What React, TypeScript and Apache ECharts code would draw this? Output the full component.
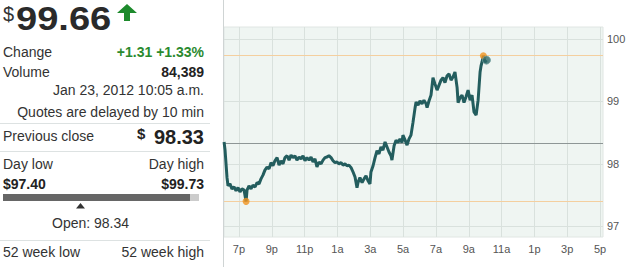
import React, { useEffect, useRef } from "react";
import * as echarts from "echarts";

// Hours since 6:00 p.m. (Jan 22, 2012) and futures price
const hours = [
  0.09, 0.15, 0.18, 0.27, 0.33, 0.45, 0.57, 0.7, 0.82, 0.94, 1.06, 1.18, 1.31, 1.43, 1.49, 1.61, 1.73, 1.85, 1.98, 2.1,
  2.22, 2.34, 2.46, 2.58, 2.71, 2.83, 2.95, 3.07, 3.19, 3.32, 3.44, 3.56, 3.68, 3.8, 3.93, 4.05, 4.17, 4.29, 4.41, 4.53,
  4.66, 4.78, 4.9, 5.02, 5.14, 5.27, 5.39, 5.51, 5.63, 5.75, 5.88, 6.0, 6.12, 6.24, 6.36, 6.48, 6.61, 6.73, 6.85, 6.97,
  7.09, 7.22, 7.34, 7.46, 7.58, 7.7, 7.83, 7.95, 8.07, 8.19, 8.25, 8.37, 8.5, 8.62, 8.74, 8.86, 8.98, 9.04, 9.17, 9.29,
  9.41, 9.53, 9.65, 9.77, 9.9, 10.02, 10.14, 10.26, 10.32, 10.45, 10.57, 10.69, 10.81, 10.93, 10.99, 11.12, 11.24, 11.36,
  11.48, 11.6, 11.73, 11.79, 11.91, 12.03, 12.15, 12.27, 12.4, 12.46, 12.58, 12.7, 12.82, 12.94, 13.07, 13.19, 13.31,
  13.43, 13.55, 13.68, 13.8, 13.92, 14.04, 14.16, 14.29, 14.35, 14.47, 14.59, 14.71, 14.83, 14.96, 15.08, 15.2, 15.32,
  15.45, 15.57, 15.69, 15.75, 15.81, 15.89, 15.99, 16.08,
];
const prices = [
  98.35, 98.22, 98.11, 97.78, 97.65, 97.68, 97.6, 97.63, 97.57, 97.62, 97.55, 97.6, 97.58, 97.4, 97.58, 97.65, 97.6, 97.66,
  97.63, 97.7, 97.68, 97.76, 97.82, 97.9, 97.95, 97.92, 98.02, 97.97, 98.05, 98.1, 97.98, 98.05, 98.0, 98.1, 98.13, 98.06,
  98.14, 98.1, 98.13, 98.06, 98.11, 98.08, 98.13, 98.05, 98.1, 98.06, 98.11, 98.03, 98.08, 97.95, 98.03, 98.0, 98.06,
  98.1, 98.11, 98.13, 98.1, 98.05, 98.02, 98.03, 98.0, 98.02, 97.98, 98.0, 97.97, 97.98, 97.94, 97.87, 97.79, 97.62,
  97.7, 97.78, 97.7, 97.76, 97.81, 97.73, 97.68, 97.87, 97.97, 98.1, 98.21, 98.16, 98.27, 98.22, 98.35, 98.27, 98.19,
  98.13, 98.06, 98.29, 98.38, 98.34, 98.4, 98.34, 98.46, 98.38, 98.3, 98.4, 98.46, 98.66, 98.9, 98.99, 98.94, 99.01,
  98.96, 99.02, 98.96, 98.9, 99.01, 99.1, 99.38, 99.28, 99.18, 99.26, 99.34, 99.38, 99.3, 99.41, 99.44, 99.34, 99.39,
  99.47, 99.22, 98.98, 99.06, 99.1, 98.98, 99.07, 99.18, 99.02, 99.1, 98.83, 98.78, 99.02, 99.47, 99.57, 99.63, 99.73,
  99.63, 99.66,
];

const tickHours = [1, 3, 5, 7, 9, 11, 13, 15, 17, 19, 21, 23];
const tickLabels = ["7p", "9p", "11p", "1a", "3a", "5a", "7a", "9a", "11a", "1p", "3p", "5p"];
const priceTicks = [97, 98, 99, 100];

const lastPrice = "99.66";
const changeText = "+1.31 +1.33%";
const volumeText = "84,389";
const dateText = "Jan 23, 2012 10:05 a.m.";
const delayText = "Quotes are delayed by 10 min";
const previousClose = 98.33;
const dayLow = 97.4;
const dayHigh = 99.73;
const openPrice = 98.34;

const FONT = '"Liberation Sans", Arial, sans-serif';

function txt(x: number, y: number, text: string, size: number, opts: any = {}) {
  const align = opts.align || "left";
  return {
    type: "text",
    x,
    y,
    scaleX: opts.scaleX || 1,
    silent: true,
    style: {
      text,
      fill: opts.fill || "#333",
      font: `${opts.bold ? "bold " : ""}${size}px ${FONT}`,
      align,
      textAlign: align,
      verticalAlign: "middle",
      textVerticalAlign: "middle",
    },
  };
}

export default function App() {
  const ref = useRef<HTMLDivElement>(null);
  useEffect(() => {
    if (!ref.current) return;
    const chart = echarts.init(ref.current, undefined, { renderer: "svg" });
    const lineData = hours.map((h, i) => [h, prices[i]]);
    const lowIdx = prices.indexOf(Math.min(...prices));
    const highIdx = prices.indexOf(Math.max(...prices));
    const lastIdx = prices.length - 1;
    const divider = (y: number) => ({
      type: "line",
      silent: true,
      shape: { x1: 0, y1: y, x2: 210, y2: y },
      style: { stroke: "#dde2e2", lineWidth: 1 },
    });

    chart.setOption({
      animation: false,
      textStyle: { fontFamily: FONT },
      grid: {
        left: 224,
        right: 30,
        top: 27,
        bottom: 30,
        show: true,
        backgroundColor: "#eff5f2",
        borderColor: "#e0e6e3",
        borderWidth: 1,
      },
      xAxis: {
        type: "value",
        min: 0.086,
        max: 23.18,
        axisLine: { show: false },
        axisTick: { show: false, customValues: tickHours },
        axisLabel: {
          customValues: tickHours,
          color: "#555",
          fontSize: 11,
          margin: 6,
          formatter: (v: number) => {
            const i = tickHours.indexOf(Math.round(v));
            return i >= 0 ? tickLabels[i] : "";
          },
        },
        splitLine: { show: true, lineStyle: { color: "#d9e1dd", width: 1 } },
      },
      yAxis: {
        type: "value",
        position: "right",
        min: 96.83,
        max: 100.19,
        axisLine: { show: false },
        axisTick: { show: false, customValues: priceTicks },
        axisLabel: {
          customValues: priceTicks,
          color: "#555",
          fontSize: 11,
          margin: 4,
          formatter: (v: number) => String(Math.round(v)),
        },
        splitLine: { show: true, lineStyle: { color: "#d9e1dd", width: 1 } },
      },
      series: [
        {
          type: "line",
          data: lineData,
          showSymbol: false,
          z: 3,
          lineStyle: { color: "#235d5e", width: 3 },
          markLine: {
            silent: true,
            symbol: "none",
            label: { show: false },
            z: 2,
            data: [
              { yAxis: dayHigh, lineStyle: { color: "#f4cf9f", width: 1, type: "solid" } },
              { yAxis: dayLow, lineStyle: { color: "#f4cf9f", width: 1, type: "solid" } },
              { yAxis: previousClose, lineStyle: { color: "#8e9696", width: 1, type: "solid" } },
            ],
          },
        },
        {
          type: "scatter",
          z: 4,
          symbolSize: 7,
          itemStyle: { color: "#f0931f" },
          data: [lineData[lowIdx], lineData[highIdx]],
        },
        {
          type: "scatter",
          z: 5,
          symbolSize: 8,
          itemStyle: { color: "#2d6a6a", borderColor: "#6f9c9c", borderWidth: 1 },
          data: [lineData[lastIdx]],
        },
      ],
      graphic: [
        {
          type: "line",
          silent: true,
          shape: { x1: 223.5, y1: 0, x2: 223.5, y2: 267 },
          style: { stroke: "#cfd4d4", lineWidth: 1 },
        },
        txt(3, 14, "$", 20, { fill: "#333" }),
        txt(16, 18, lastPrice, 34, { bold: true, fill: "#2a2a2a", scaleX: 1.12 }),
        {
          type: "polygon",
          silent: true,
          shape: {
            points: [
              [127, 4],
              [137, 13],
              [130, 13],
              [130, 21],
              [124, 21],
              [124, 13],
              [117, 13],
            ],
          },
          style: { fill: "#1d8a2c" },
        },
        txt(3, 52, "Change", 14),
        txt(204, 52, changeText, 14, { bold: true, fill: "#2b8a2f", align: "right" }),
        txt(3, 72, "Volume", 14),
        txt(204, 72, volumeText, 14, { bold: true, fill: "#222", align: "right" }),
        txt(204, 90, dateText, 14, { align: "right" }),
        txt(204, 112, delayText, 14, { align: "right" }),
        divider(123.5),
        txt(3, 136, "Previous close", 14),
        txt(204, 137, previousClose.toFixed(2), 20, { bold: true, fill: "#222", align: "right" }),
        txt(137, 133, "$", 15, { bold: true, fill: "#222" }),
        divider(151.5),
        txt(3, 164, "Day low", 14),
        txt(204, 164, "Day high", 14, { align: "right" }),
        txt(3, 184, "$" + dayLow.toFixed(2), 14, { bold: true, fill: "#222" }),
        txt(204, 184, "$" + dayHigh.toFixed(2), 14, { bold: true, fill: "#222", align: "right" }),
        { type: "rect", silent: true, shape: { x: 3, y: 194, width: 196, height: 7 }, style: { fill: "#cccccc" } },
        { type: "rect", silent: true, shape: { x: 3, y: 194, width: 187, height: 7 }, style: { fill: "#666666" } },
        {
          type: "polygon",
          silent: true,
          shape: { points: [[80.5, 203], [85, 208.5], [76, 208.5]] },
          style: { fill: "#333" },
        },
        txt(52, 223, "Open: " + openPrice.toFixed(2), 14),
        divider(240.5),
        txt(3, 252, "52 week low", 14),
        txt(204, 252, "52 week high", 14, { align: "right" }),
      ],
    });
    return () => chart.dispose();
  }, []);
  return (
    <div
      ref={ref}
      style={{ position: "absolute", left: 0, top: 0, width: 633, height: 267, background: "#fff" }}
    />
  );
}
